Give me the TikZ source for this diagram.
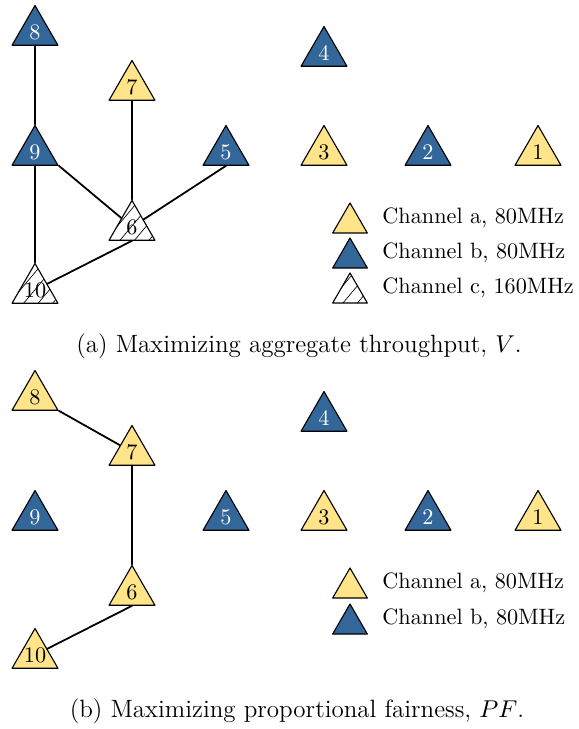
\documentclass[tikz,border=0pt]{standalone}
\usetikzlibrary{shapes.geometric,patterns.meta}
\definecolor{chanA}{RGB}{255,228,138}
\definecolor{chanB}{RGB}{51,103,153}
\tikzset{
  tri/.style={regular polygon,regular polygon sides=3,draw,line width=0.5pt,inner sep=-4pt,minimum size=23.85pt},
  ap/.style={tri,fill=chanA},
  bp/.style={tri,fill=chanB,text=white},
  cp/.style={tri,fill=white,postaction={pattern={Lines[angle=50,distance=5pt,line width=0.3pt]}}},
  small/.style={minimum size=18pt},
  link/.style={line width=0.8pt},
  legtext/.style={anchor=west,inner sep=0pt},
  caption/.style={font=\fontsize{11.25}{13}\selectfont}
}
\begin{document}
\begin{tikzpicture}[x=0.45pt,y=-0.45pt,line join=round,line cap=round]
\useasboundingbox (0,0) rectangle (578,729);
% (a) aggregate throughput
\foreach \n/\x/\y/\s in {8/35/32/bp,7/132/87/ap,4/324/53/bp,9/35/152/bp,5/226/152/bp,3/324/152/ap,2/428/152/bp,1/538/152/ap,6/132/227/cp,10/35/290/cp}
  \node[\s] (a\n) at (\x,\y) {\n};
\draw[link] (a8)--(a9)--(a10) (a7)--(a6) (a9.corner 3)--(a6) (a5.south)--(a6) (a6.south)--(a10);
\foreach \k/\y/\s/\t in {1/223/ap/{Channel a, 80MHz},2/258/bp/{Channel b, 80MHz},3/293/cp/{Channel c, 160MHz}}
{
  \node[\s,small] (la\k) at (350,\y) {};
  \node[legtext] (ta\k) at (382,\y-5) {\t};
}
\node[caption] (capa) at (299,346) {(a) Maximizing aggregate throughput, $V$.};
% (b) proportional fairness
\foreach \n/\x/\y/\s in {8/35/397/ap,7/132/452/ap,4/324/418/bp,9/35/517/bp,5/226/517/bp,3/324/517/ap,2/428/517/bp,1/538/517/ap,6/132/592/ap,10/35/655/ap}
  \node[\s] (b\n) at (\x,\y) {\n};
\draw[link] (b8.corner 3)--(b7)--(b6) (b6.south)--(b10);
\foreach \k/\y/\s/\t in {1/588/ap/{Channel a, 80MHz},2/624/bp/{Channel b, 80MHz}}
{
  \node[\s,small] (lb\k) at (350,\y) {};
  \node[legtext] (tb\k) at (382,\y-5) {\t};
}
\node[caption] (capb) at (297,711) {(b) Maximizing proportional fairness, $PF$.};
\end{tikzpicture}
\end{document}
